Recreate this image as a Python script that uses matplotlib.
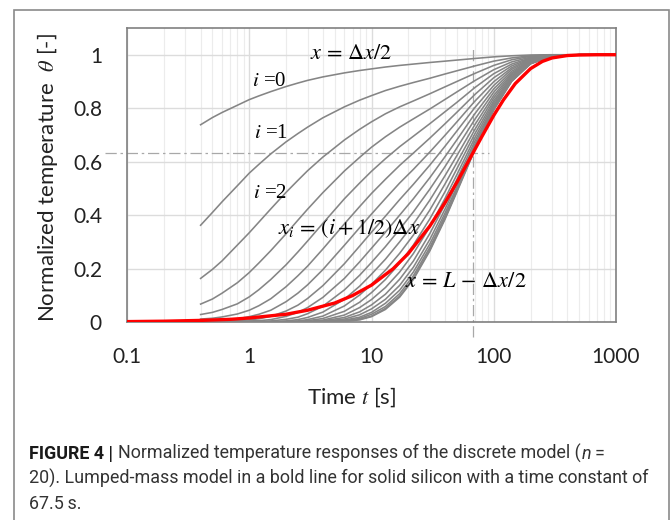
import matplotlib
matplotlib.use("Agg")
import matplotlib.pyplot as plt
from matplotlib.patches import Rectangle
from matplotlib.ticker import FixedLocator, LogLocator, NullFormatter

plt.rcParams["mathtext.fontset"] = "stix"
plt.rcParams["font.family"] = ["Lato", "DejaVu Sans"]

# times (s) at which the gray node curves were read
t_gray = [0.4, 0.5, 0.6, 0.8, 1, 1.2, 1.5, 2, 2.5, 3, 4, 6, 8, 10, 13, 17, 22, 30, 40, 50, 70, 100, 140, 200, 300, 500, 1000]

# normalized temperature of node i = 0 .. 19 (one row per node)
theta_gray = [
    [0.738, 0.765, 0.784, 0.811, 0.832, 0.846, 0.862, 0.881, 0.894, 0.904, 0.917, 0.932, 0.941, 0.947, 0.954, 0.960, 0.965, 0.971, 0.976, 0.980, 0.986, 0.992, 0.996, 0.999, 1.0, 1.0, 1.0],
    [0.362, 0.410, 0.450, 0.510, 0.557, 0.590, 0.629, 0.674, 0.705, 0.729, 0.764, 0.805, 0.830, 0.847, 0.866, 0.882, 0.896, 0.912, 0.928, 0.940, 0.958, 0.976, 0.988, 0.996, 0.999, 1.0, 1.0],
    [0.163, 0.197, 0.229, 0.288, 0.334, 0.374, 0.423, 0.485, 0.530, 0.566, 0.617, 0.681, 0.721, 0.749, 0.779, 0.805, 0.827, 0.854, 0.880, 0.900, 0.930, 0.960, 0.981, 0.994, 0.999, 1.0, 1.0],
    [0.067, 0.086, 0.108, 0.147, 0.185, 0.221, 0.267, 0.330, 0.381, 0.422, 0.484, 0.565, 0.616, 0.654, 0.693, 0.729, 0.760, 0.797, 0.833, 0.861, 0.903, 0.944, 0.973, 0.991, 0.999, 1.0, 1.0],
    [0.028, 0.036, 0.047, 0.068, 0.094, 0.121, 0.159, 0.214, 0.262, 0.303, 0.369, 0.461, 0.520, 0.564, 0.611, 0.656, 0.695, 0.742, 0.787, 0.822, 0.877, 0.929, 0.965, 0.988, 0.998, 1.0, 1.0],
    [0.011, 0.014, 0.019, 0.030, 0.044, 0.061, 0.087, 0.132, 0.173, 0.209, 0.273, 0.367, 0.432, 0.481, 0.534, 0.586, 0.632, 0.688, 0.742, 0.785, 0.851, 0.914, 0.958, 0.986, 0.998, 1.0, 1.0],
    [0.004, 0.006, 0.008, 0.012, 0.020, 0.029, 0.044, 0.076, 0.108, 0.139, 0.196, 0.287, 0.353, 0.404, 0.462, 0.520, 0.571, 0.636, 0.699, 0.749, 0.826, 0.899, 0.951, 0.984, 0.997, 1.0, 1.0],
    [0.002, 0.002, 0.003, 0.005, 0.008, 0.012, 0.021, 0.041, 0.063, 0.088, 0.136, 0.218, 0.284, 0.336, 0.396, 0.458, 0.515, 0.587, 0.658, 0.715, 0.802, 0.885, 0.945, 0.981, 0.997, 1.0, 1.0],
    [0.001, 0.001, 0.001, 0.002, 0.004, 0.005, 0.009, 0.021, 0.036, 0.054, 0.092, 0.163, 0.225, 0.276, 0.336, 0.400, 0.461, 0.540, 0.619, 0.682, 0.779, 0.872, 0.938, 0.979, 0.997, 1.0, 1.0],
    [0.0, 0.0, 0.0, 0.001, 0.001, 0.002, 0.004, 0.010, 0.018, 0.031, 0.059, 0.120, 0.175, 0.223, 0.282, 0.347, 0.412, 0.497, 0.582, 0.652, 0.758, 0.860, 0.932, 0.977, 0.996, 1.0, 1.0],
    [0.0, 0.0, 0.0, 0.0, 0.0, 0.001, 0.001, 0.004, 0.009, 0.017, 0.037, 0.085, 0.134, 0.179, 0.235, 0.300, 0.366, 0.456, 0.548, 0.623, 0.738, 0.848, 0.927, 0.975, 0.996, 1.0, 1.0],
    [0.0, 0.0, 0.0, 0.0, 0.0, 0.0, 0.0, 0.002, 0.004, 0.009, 0.022, 0.060, 0.101, 0.141, 0.194, 0.257, 0.325, 0.419, 0.517, 0.597, 0.720, 0.838, 0.922, 0.974, 0.996, 1.0, 1.0],
    [0.0, 0.0, 0.0, 0.0, 0.0, 0.0, 0.0, 0.001, 0.002, 0.005, 0.013, 0.040, 0.074, 0.110, 0.159, 0.220, 0.288, 0.386, 0.488, 0.574, 0.704, 0.828, 0.917, 0.972, 0.995, 1.0, 1.0],
    [0.0, 0.0, 0.0, 0.0, 0.0, 0.0, 0.0, 0.0, 0.001, 0.002, 0.007, 0.026, 0.054, 0.084, 0.129, 0.187, 0.256, 0.356, 0.463, 0.552, 0.689, 0.820, 0.913, 0.971, 0.995, 1.0, 1.0],
    [0.0, 0.0, 0.0, 0.0, 0.0, 0.0, 0.0, 0.0, 0.0, 0.001, 0.004, 0.017, 0.038, 0.064, 0.104, 0.160, 0.228, 0.331, 0.441, 0.534, 0.676, 0.812, 0.909, 0.970, 0.995, 1.0, 1.0],
    [0.0, 0.0, 0.0, 0.0, 0.0, 0.0, 0.0, 0.0, 0.0, 0.0, 0.002, 0.011, 0.027, 0.049, 0.085, 0.137, 0.205, 0.309, 0.423, 0.519, 0.665, 0.806, 0.906, 0.969, 0.995, 1.0, 1.0],
    [0.0, 0.0, 0.0, 0.0, 0.0, 0.0, 0.0, 0.0, 0.0, 0.0, 0.001, 0.007, 0.018, 0.036, 0.070, 0.119, 0.187, 0.292, 0.408, 0.506, 0.657, 0.801, 0.904, 0.968, 0.995, 1.0, 1.0],
    [0.0, 0.0, 0.0, 0.0, 0.0, 0.0, 0.0, 0.0, 0.0, 0.0, 0.0, 0.004, 0.013, 0.029, 0.058, 0.106, 0.173, 0.279, 0.397, 0.497, 0.650, 0.797, 0.902, 0.967, 0.995, 1.0, 1.0],
    [0.0, 0.0, 0.0, 0.0, 0.0, 0.0, 0.0, 0.0, 0.0, 0.0, 0.0, 0.003, 0.010, 0.022, 0.051, 0.097, 0.163, 0.270, 0.389, 0.491, 0.646, 0.795, 0.901, 0.967, 0.995, 1.0, 1.0],
    [0.0, 0.0, 0.0, 0.0, 0.0, 0.0, 0.0, 0.0, 0.0, 0.0, 0.0, 0.002, 0.008, 0.020, 0.047, 0.093, 0.159, 0.266, 0.385, 0.487, 0.644, 0.794, 0.900, 0.966, 0.995, 1.0, 1.0],
]

# lumped-mass model (bold red line)
t_red = [0.1, 0.2, 0.4, 0.7, 1, 2, 3, 5, 7, 10, 15, 20, 30, 40, 50, 67.5, 80, 100, 120, 150, 200, 250, 300, 400, 500, 700, 1000]
theta_red = [0.0015, 0.003, 0.006, 0.010, 0.015, 0.029, 0.044, 0.071, 0.099, 0.138, 0.199, 0.256, 0.359, 0.447, 0.523, 0.632,
             0.694, 0.773, 0.831, 0.892, 0.948, 0.975, 0.988, 0.997, 0.999, 1.0, 1.0]

tau = 67.5
theta_tau = 0.632

x_ticks = [0.1, 1, 10, 100, 1000]
x_ticklabels = ["0.1", "1", "10", "100", "1000"]
y_ticks = [0, 0.2, 0.4, 0.6, 0.8, 1]
y_ticklabels = ["0", "0.2", "0.4", "0.6", "0.8", "1"]

W, H = 672, 520
fig = plt.figure(figsize=(W / 100, H / 100), dpi=100)
fig.patch.set_facecolor("white")

# outer frame of the figure panel
fig.patches.append(Rectangle((14 / W, -0.05), (669 - 14) / W, 0.05 + 1 - 10 / H,
                             transform=fig.transFigure, fill=False,
                             edgecolor="#8a8a8a", lw=1.2))

ax = fig.add_axes([127 / W, 1 - 322 / H, (616 - 127) / W, (322 - 28) / H])

for row in theta_gray:
    ax.plot(t_gray, row, color="#858585", lw=1.15, zorder=3)
ax.plot(t_red, theta_red, color="#ff0000", lw=2.4, zorder=4, solid_capstyle="butt")

# time-constant markers
dash = (0, (9, 3, 2, 3))
ax.plot([0.066, 92], [theta_tau, theta_tau], color="#a8a8a8", lw=0.9,
        linestyle=dash, clip_on=False, zorder=2)
ax.plot([tau, tau], [-0.057, 1.03], color="#a8a8a8", lw=0.9,
        linestyle=dash, clip_on=False, zorder=2)

ax.set_xscale("log")
ax.set_xlim(0.1, 1000)
ax.set_ylim(0, 1.1)
ax.xaxis.set_major_locator(FixedLocator(x_ticks))
ax.set_xticklabels(x_ticklabels, fontfamily="Lato")
ax.xaxis.set_minor_locator(LogLocator(base=10, subs=range(2, 10)))
ax.xaxis.set_minor_formatter(NullFormatter())
ax.set_yticks(y_ticks)
ax.set_yticklabels(y_ticklabels, fontfamily="Lato")

ax.grid(True, which="major", color="#dcdcdc", lw=1.0, zorder=0)
ax.grid(True, which="minor", axis="x", color="#ececec", lw=0.8, zorder=0)
ax.set_axisbelow(True)

for s in ax.spines.values():
    s.set_color("#808080")
    s.set_linewidth(1.2)

ax.tick_params(which="both", length=0)
ax.tick_params(axis="y", pad=18, labelsize=15, labelcolor="#222222")
ax.tick_params(axis="x", pad=18, labelsize=15, labelcolor="#222222")

ax.set_ylabel(r"Normalized temperature  $\theta$ [-]", fontsize=16,
              fontfamily="Lato", color="#222222")
ax.yaxis.set_label_coords(-0.137, 0.49)
ax.set_xlabel(r"Time $t$ [s]", fontsize=16, fontfamily="Lato", color="#222222")
ax.xaxis.set_label_coords(0.46, -0.215)

# curve annotations
serif = "Liberation Serif"
ax.text(6.8, 1.006, r"$x\,=\,\Delta x/2$", fontsize=16, ha="center", va="center", zorder=5)
ax.text(1.45, 0.898, r"$i$ =0", fontsize=15, ha="center", va="center", fontfamily=serif, zorder=5)
ax.text(1.5, 0.707, r"$i$ =1", fontsize=15, ha="center", va="center", fontfamily=serif, zorder=5)
ax.text(1.47, 0.482, r"$i$ =2", fontsize=15, ha="center", va="center", fontfamily=serif, zorder=5)
ax.text(6.6, 0.35, r"$x_i\,=\,(i + 1/2)\Delta x$", fontsize=16, ha="center", va="center", zorder=5)
ax.text(59, 0.152, r"$x\,=\,L\,-\,\Delta x/2$", fontsize=16, ha="center", va="center", zorder=5)

# caption, font size fitted so the second line spans the same width as in the figure
cap_font = "Roboto"
cap_col = "#333333"
line1 = "Normalized temperature responses of the discrete model ("
line2 = "20). Lumped-mass model in a bold line for solid silicon with a time constant of"
line3 = "67.5\u2009s."
x0 = 29 / W
fig.canvas.draw()
renderer = fig.canvas.get_renderer()

probe = fig.text(x0, 0.5, line2, fontsize=13, fontfamily=cap_font)
w = probe.get_window_extent(renderer).width
probe.remove()
cap_size = 13 * (650 - 29) / w

t1 = fig.text(x0, 1 - 459 / H, "FIGURE 4 |", fontsize=cap_size, fontweight="bold",
              fontfamily=cap_font, color="#1a1a1a", va="baseline")
bb = t1.get_window_extent(renderer)
t2 = fig.text((bb.x1 + 5) / W, 1 - 459 / H, line1,
              fontsize=cap_size, fontfamily=cap_font, color=cap_col, va="baseline")
bb = t2.get_window_extent(renderer)
t3 = fig.text((bb.x1 + 0.5) / W, 1 - 459 / H, "n", fontsize=cap_size, fontfamily=cap_font,
              style="italic", color=cap_col, va="baseline")
bb = t3.get_window_extent(renderer)
fig.text((bb.x1 + 4) / W, 1 - 459 / H, "=", fontsize=cap_size, fontfamily=cap_font,
         color=cap_col, va="baseline")
fig.text(x0, 1 - 484 / H, line2, fontsize=cap_size, fontfamily=cap_font, color=cap_col,
         va="baseline")
fig.text(x0, 1 - 509 / H, line3, fontsize=cap_size, fontfamily=cap_font, color=cap_col,
         va="baseline")

fig.savefig("out.png", dpi=100, facecolor="white")
